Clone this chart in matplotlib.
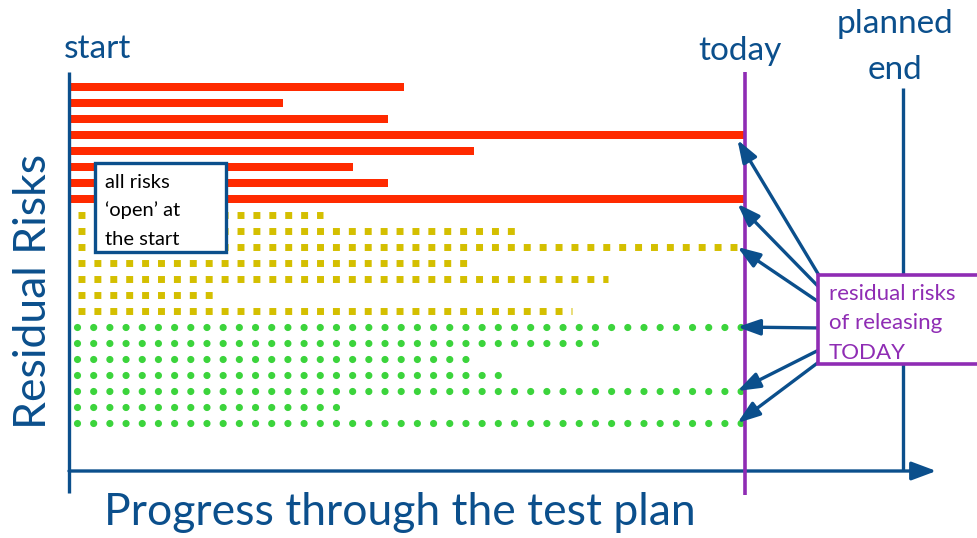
import matplotlib
matplotlib.use("Agg")
import matplotlib.pyplot as plt
from matplotlib.patches import Rectangle

# Прогресс по плану тестирования, % (0 = старт, 100 = плановый конец)
TODAY = 81
PLANNED_END = 100

# Где каждый риск перестал быть открытым; TODAY = всё ещё открыт
red_ends = [40.2, 25.7, 38.2, TODAY, 48.6, 34.0, 38.2, TODAY]
yellow_ends = [30.5, 53.5, TODAY, 47.7, 64.6, 17.3, 60.3]
green_ends = [TODAY, 63.9, 48.9, 52.6, TODAY, 33.6, TODAY]

box_left_lines = ["all risks", "\u2018open\u2019 at", "the start"]
box_right_lines = ["residual risks", "of releasing", "TODAY"]

NAVY = "#0b4f8c"
PURPLE = "#8f2cb4"
RED = "#ff2a00"
YELLOW = "#d4bf00"
GREEN = "#3cd43c"

plt.rcParams["font.family"] = ["Lato", "DejaVu Sans"]

fig = plt.figure(figsize=(9.78, 5.38), dpi=100, facecolor="white")
ax = fig.add_axes([0, 0, 1, 1])
ax.axis("off")
# 8.34 px на 1% плана, 16 px на один риск
ax.set_xlim(-69 / 8.34, 909 / 8.34)
ax.set_ylim(451 / 16, -87 / 16)

n_red, n_yel = len(red_ends), len(yellow_ends)
red_rows = list(range(n_red))
yel_rows = list(range(n_red, n_red + n_yel))
grn_rows = list(range(n_red + n_yel, n_red + n_yel + len(green_ends)))

# красные — сплошные полосы
ax.barh(red_rows, red_ends, left=0, height=0.53, color=RED, zorder=2)

# жёлтые — квадратные точки
for r, e in zip(yel_rows, yellow_ends):
    ax.plot([1.08, e], [r, r], color=YELLOW, lw=5.0, linestyle=(0, (1.0, 1.29)),
            dash_capstyle="butt", zorder=2)

# зелёные — круглые точки
for r, e in zip(grn_rows, green_ends):
    ax.plot([0.96, e + 0.3], [r, r], color=GREEN, lw=5.2, linestyle=(0, (0.001, 2.24)),
            dash_capstyle="round", zorder=2)

# оси
ax.plot([0, 0], [-0.94, 25.4], color=NAVY, lw=2.4, solid_capstyle="butt", zorder=3)
ax.annotate("", xy=(104.0, 24), xytext=(0, 24),
            arrowprops=dict(arrowstyle="-|>,head_length=0.75,head_width=0.28",
                            mutation_scale=20, lw=2.4, color=NAVY, shrinkA=0, shrinkB=0),
            zorder=3)
ax.plot([TODAY, TODAY], [-0.94, 25.5], color=PURPLE, lw=2.6, solid_capstyle="butt", zorder=4)
ax.plot([PLANNED_END, PLANNED_END], [0.06, 24], color=NAVY, lw=2.4, solid_capstyle="butt", zorder=3)

# подписи
ax.text(3.4, -1.81, "start", color=NAVY, fontsize=24, ha="center", va="baseline")
ax.text(80.4, -1.69, "today", color=NAVY, fontsize=24, ha="center", va="baseline")
ax.text(99.0, -3.4, "planned", color=NAVY, fontsize=24, ha="center", va="baseline")
ax.text(99.0, -0.5, "end", color=NAVY, fontsize=24, ha="center", va="baseline")
ax.text(-4.2, 12.75, "Residual Risks", color=NAVY, fontsize=32, rotation=90,
        ha="center", va="center")
ax.text(39.7, 27.4, "Progress through the test plan", color=NAVY, fontsize=32,
        ha="center", va="baseline")

# блок слева
ax.add_patch(Rectangle((3.12, 4.75), 15.7, 5.56, facecolor="white", edgecolor=NAVY,
                       lw=2.4, zorder=5))
for i, line in enumerate(box_left_lines):
    ax.text(4.3, 6.31 + 1.78 * i, line, color="black", fontsize=14.5, ha="left",
            va="baseline", zorder=6)

# стрелки на риски, открытые сегодня
targets = [r for r, e in zip(red_rows + yel_rows + grn_rows, red_ends + yellow_ends + green_ends)
           if e == TODAY]
tails = [11.75, 12.5, 13.44, 15.06, 16.44, 17.19]
for r, t in zip(targets, tails):
    dy = 0.3 if r < n_red else 0.0
    ax.annotate("", xy=(TODAY - 0.85, r + dy), xytext=(89.9, t),
                arrowprops=dict(arrowstyle="-|>,head_length=0.68,head_width=0.24",
                                mutation_scale=20, lw=2.4, color=NAVY,
                                shrinkA=0, shrinkB=0),
                zorder=5)

# блок справа
ax.add_patch(Rectangle((89.8, 11.75), 25, 5.56, facecolor="white", edgecolor=PURPLE,
                       lw=2.6, zorder=6, clip_on=False))
for i, line in enumerate(box_right_lines):
    ax.text(91.1, 13.31 + 1.83 * i, line, color=PURPLE, fontsize=16, ha="left",
            va="baseline", zorder=7)

fig.savefig("out.png", dpi=100, facecolor="white")
